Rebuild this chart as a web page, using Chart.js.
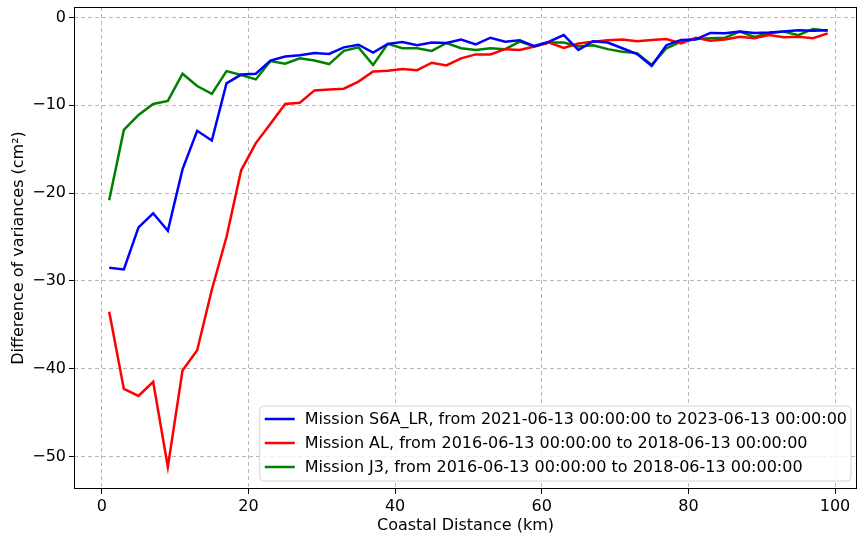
<!DOCTYPE html>
<html>
<head>
<meta charset="utf-8">
<script src="https://cdn.jsdelivr.net/npm/chart.js@4/dist/chart.umd.min.js"></script>
<style>
    html, body { margin: 0; padding: 0; background: #fff; }
    #wrap { width: 858px; height: 538px; position: relative; }
</style>
</head>
<body>
<div id="wrap"><canvas id="chart"></canvas></div>
<script>
const distances = [1, 3, 5, 7, 9, 11, 13, 15, 17, 19, 21, 23, 25, 27, 29, 31, 33, 35, 37, 39,
    41, 43, 45, 47, 49, 51, 53, 55, 57, 59, 61, 63, 65, 67, 69, 71, 73, 75, 77, 79,
    81, 83, 85, 87, 89, 91, 93, 95, 97, 99];

const s6aValues = [-28.5, -28.7, -23.9, -22.3, -24.3, -17.3, -12.9, -14.0, -7.5, -6.5,
    -6.4, -4.9, -4.45, -4.3, -4.05, -4.15, -3.4, -3.1, -4.0, -3.0,
    -2.8, -3.15, -2.85, -2.9, -2.5, -3.05, -2.3, -2.75, -2.6, -3.25,
    -2.75, -2.0, -3.7, -2.7, -2.85, -3.5, -4.15, -5.5, -3.15, -2.55,
    -2.5, -1.75, -1.8, -1.6, -1.75, -1.7, -1.6, -1.45, -1.5, -1.45];

const alValues = [-33.5, -42.3, -43.1, -41.5, -51.2, -40.2, -37.9, -31.0, -25.0, -17.4,
    -14.3, -12.1, -9.85, -9.7, -8.3, -8.2, -8.1, -7.3, -6.15, -6.05,
    -5.85, -6.0, -5.15, -5.45, -4.65, -4.2, -4.2, -3.6, -3.7, -3.3,
    -2.85, -3.45, -2.95, -2.75, -2.6, -2.5, -2.7, -2.55, -2.45, -2.95,
    -2.3, -2.65, -2.5, -2.2, -2.35, -2.0, -2.25, -2.2, -2.35, -1.8];

const j3Values = [-20.8, -12.8, -11.1, -9.85, -9.5, -6.4, -7.8, -8.7, -6.1, -6.55,
    -7.05, -4.95, -5.25, -4.65, -4.9, -5.3, -3.8, -3.4, -5.4, -3.0,
    -3.5, -3.5, -3.8, -2.9, -3.5, -3.7, -3.5, -3.6, -2.75, -3.3,
    -2.85, -2.85, -3.3, -3.15, -3.6, -3.9, -4.05, -5.4, -3.5, -2.75,
    -2.45, -2.35, -2.3, -1.6, -2.2, -1.8, -1.6, -2.0, -1.3, -1.5];

const seriesLabels = [
    'Mission S6A_LR, from 2021-06-13 00:00:00 to 2023-06-13 00:00:00',
    'Mission AL, from 2016-06-13 00:00:00 to 2018-06-13 00:00:00',
    'Mission J3, from 2016-06-13 00:00:00 to 2018-06-13 00:00:00'
];
const seriesColors = ['#0000ff', '#ff0000', '#008000'];

const xTicks = [0, 20, 40, 60, 80, 100];
const yTicks = [0, -10, -20, -30, -40, -50];

const FONT = 'DejaVu Sans';
const FONT_SIZE = 16;

const toPoints = (values) => values.map((v, i) => ({ x: distances[i], y: v }));
const fmt = (v) => (v < 0 ? '\u2212' + Math.abs(v) : String(v));

// black box round the plot, like matplotlib spines
const framePlugin = {
    id: 'frame',
    afterDatasetsDraw(chart) {
        const { ctx, chartArea: a } = chart;
        ctx.save();
        ctx.strokeStyle = '#000';
        ctx.lineWidth = 1;
        ctx.strokeRect(a.left + 0.5, a.top + 0.5, a.right - a.left - 1, a.bottom - a.top - 1);
        ctx.restore();
    }
};

// legend box in the lower right corner of the plot
const legendPlugin = {
    id: 'boxLegend',
    afterDraw(chart) {
        const { ctx, chartArea: a } = chart;
        const sets = chart.data.datasets;
        ctx.save();
        ctx.font = `${FONT_SIZE}px "${FONT}"`;
        const textW = Math.max(...sets.map((d) => ctx.measureText(d.label).width));
        const rowH = 24;
        const w = 45 + textW + 4;
        const h = sets.length * rowH + 3;
        const x = a.right - 6 - w;
        const y = a.bottom - 8 - h;
        ctx.beginPath();
        ctx.roundRect(x, y, w, h, 4);
        ctx.fillStyle = 'rgba(255,255,255,0.8)';
        ctx.fill();
        ctx.strokeStyle = '#d6d6d6';
        ctx.lineWidth = 1;
        ctx.stroke();
        sets.forEach((d, i) => {
            const cy = y + 13 + i * rowH;
            ctx.beginPath();
            ctx.moveTo(x + 5, cy);
            ctx.lineTo(x + 35, cy);
            ctx.strokeStyle = d.borderColor;
            ctx.lineWidth = 2.5;
            ctx.stroke();
            ctx.fillStyle = '#000';
            ctx.textBaseline = 'middle';
            ctx.fillText(d.label, x + 45, cy + 1);
        });
        ctx.restore();
    }
};

const gridOpts = {
    color: '#b8b8b8',
    lineWidth: 1,
    tickColor: '#000',
    tickLength: 5,
    tickBorderDash: [],
    drawTicks: true
};
// in v4 the dash of the grid lines sits on the border options
const borderOpts = { display: false, dash: [4, 3] };

new Chart(document.getElementById('chart'), {
    type: 'line',
    data: {
        datasets: [s6aValues, alValues, j3Values].map((vals, i) => ({
            label: seriesLabels[i],
            data: toPoints(vals),
            borderColor: seriesColors[i],
            backgroundColor: seriesColors[i],
            borderWidth: 2.5,
            pointRadius: 0,
            tension: 0,
            fill: false
        }))
    },
    options: {
        responsive: true,
        maintainAspectRatio: false,
        animation: false,
        layout: { padding: { top: 7, right: 1, left: 0, bottom: 0 } },
        plugins: {
            legend: { display: false },
            tooltip: { enabled: false }
        },
        scales: {
            x: {
                type: 'linear',
                min: -3.8,
                max: 103,
                afterBuildTicks: (axis) => { axis.ticks = xTicks.map((v) => ({ value: v })); },
                afterFit: (axis) => { axis.height = 49; axis.paddingLeft = 0; axis.paddingRight = 0; },
                grid: gridOpts,
                border: borderOpts,
                ticks: { color: '#000', font: { family: FONT, size: FONT_SIZE }, padding: 3, maxRotation: 0, callback: fmt },
                title: { display: true, text: 'Coastal Distance (km)', color: '#000', font: { family: FONT, size: FONT_SIZE }, padding: { top: 0, bottom: 3 } }
            },
            y: {
                type: 'linear',
                min: -53.7,
                max: 1.2,
                afterBuildTicks: (axis) => { axis.ticks = yTicks.map((v) => ({ value: v })); },
                afterFit: (axis) => { axis.width = 74; axis.paddingTop = 0; axis.paddingBottom = 0; },
                grid: gridOpts,
                border: borderOpts,
                ticks: { color: '#000', font: { family: FONT, size: FONT_SIZE }, padding: 3, callback: fmt },
                title: { display: true, text: 'Difference of variances (cm²)', color: '#000', font: { family: FONT, size: FONT_SIZE }, padding: { top: 9, bottom: 0 } }
            }
        }
    },
    plugins: [framePlugin, legendPlugin]
});
</script>
</body>
</html>
